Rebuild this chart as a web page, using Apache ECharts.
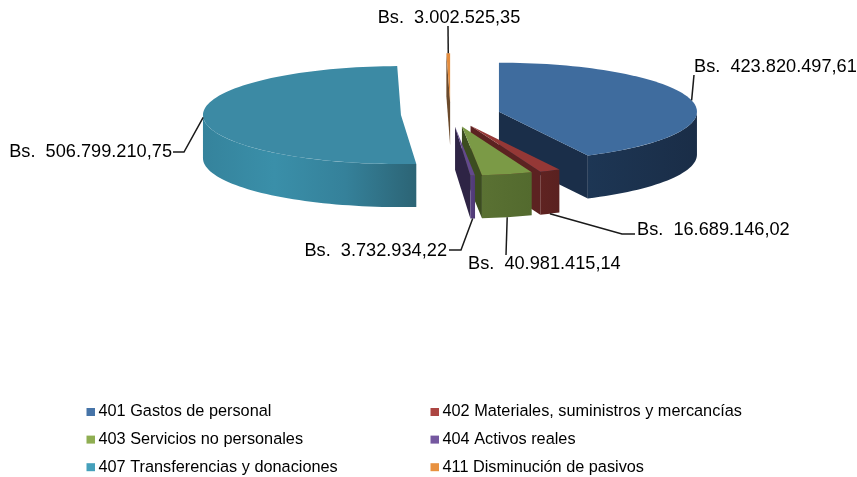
<!DOCTYPE html>
<html>
<head>
<meta charset="utf-8">
<title>Gastos por partida</title>
<style>
	html, body { margin: 0; padding: 0; background: #fff; }
	#chart { width: 857px; height: 477px; }
</style>
<script src="https://cdn.jsdelivr.net/npm/echarts@6/dist/echarts.min.js"></script>
</head>
<body>
<div id="chart"></div>
<script>
var categories = ['401 Gastos de personal', '402 Materiales, suministros y mercancías', '403 Servicios no personales', '404 Activos reales', '407 Transferencias y donaciones', '411 Disminución de pasivos'];
var values = [423820497.61, 16689146.02, 40981415.14, 3732934.22, 506799210.75, 3002525.35];

// styles, same order as categories
var topColors = ['#3f6c9e', '#953836', '#7b9a46', '#63498c', '#3c8aa4', '#e38c3e'];
var rimColors = [['#1d3654', '#1a2d47'], ['#5f2321', '#5a2120'], ['#5a7133', '#536a2e'], ['#574080', '#4f3a74'], ['#35839c', '#3a8fa9', '#35819a', '#2c6475'], ['#a8662c', '#6e4a26']];
var faceColors = ['#1a2e49', '#5c2221', '#3c4d20', '#2e2445', '#2a6070', '#6b4a2c'];
var legendColors = ['#4674a8', '#ac4542', '#8fae52', '#7558a0', '#45a0bb', '#e8913f'];

// label layout: elbow of the leader line, end of it, text anchor
var leaders = [
	[[694, 75], [694, 75]],
	[[622, 234], [635, 234]],
	[[506, 255], [506, 255]],
	[[461, 250], [449, 250]],
	[[184, 152], [173, 152]],
	[[448, 26], [448, 26]]
];
var labelPos = [[694, 67, 'left'], [637, 230, 'left'], [468, 264, 'left'], [447, 251, 'right'], [172, 152, 'right'], [449, 18, 'center']];

// pie geometry
var cx = 450.6, cy = 114.5, rx = 198, ry = 49, depth = 43, explode = 49.7;

var total = 0, i;
for (i = 0; i < values.length; i++) {
	total += values[i];
}
var startAngles = [], acc = 0;
for (i = 0; i < values.length; i++) {
	startAngles.push(acc);
	acc += values[i] / total * 360;
}

function rad(a) {
	return a * Math.PI / 180;
}

function formatBs(v) {
	var s = v.toFixed(2).split('.');
	return 'Bs.  ' + s[0].replace(/\B(?=(\d{3})+$)/g, '.') + ',' + s[1];
}

// angle is clockwise from 12 o'clock
function rimPoint(ox, oy, a, dy) {
	return [ox + rx * Math.sin(rad(a)), oy - ry * Math.cos(rad(a)) + dy];
}

function arcPoints(ox, oy, a0, a1, dy) {
	var pts = [], n = Math.max(2, Math.ceil(Math.abs(a1 - a0) / 2)), k;
	for (k = 0; k <= n; k++) {
		pts.push(rimPoint(ox, oy, a0 + (a1 - a0) * k / n, dy));
	}
	return pts;
}

function poly(points, fill) {
	return {
		type: 'polygon',
		shape: { points: points },
		silent: true,
		style: { fill: fill }
	};
}

function renderSlice(idx, api) {
	var sweep = api.value(0) / total * 360;
	var a0 = startAngles[idx];
	var a1 = a0 + sweep;
	var mid = a0 + sweep / 2;
	var ox = cx + explode * Math.sin(rad(mid));
	var oy = cy - explode * ry / rx * Math.cos(rad(mid));
	var children = [];
	var p0 = rimPoint(ox, oy, a0, 0);
	var p1 = rimPoint(ox, oy, a1, 0);

	// flat side faces, only those turned to the viewer
	if (Math.sin(rad(a0)) < 0) {
		children.push(poly([[ox, oy], p0, [p0[0], p0[1] + depth], [ox, oy + depth]], faceColors[idx]));
	}
	if (Math.sin(rad(a1)) > 0) {
		children.push(poly([[ox, oy], p1, [p1[0], p1[1] + depth], [ox, oy + depth]], faceColors[idx]));
	}

	// outer rim, front half of the ellipse only
	var r0 = Math.max(a0, 90), r1 = Math.min(a1, 270);
	if (r1 > r0) {
		var rim = arcPoints(ox, oy, r0, r1, 0).concat(arcPoints(ox, oy, r1, r0, depth));
		var stops = rimColors[idx].map(function (c, k, all) {
			return { offset: k / (all.length - 1), color: c };
		});
		children.push(poly(rim, new echarts.graphic.LinearGradient(0, 0, 1, 0, stops)));
	}

	// top face
	children.push(poly([[ox, oy]].concat(arcPoints(ox, oy, a0, a1, 0)), topColors[idx]));

	// leader line, starts on the rim at the middle of the slice
	var anchor = rimPoint(ox, oy, mid, Math.cos(rad(mid)) < -0.5 ? depth : 0);
	children.push({
		type: 'polyline',
		silent: true,
		shape: { points: [anchor].concat(leaders[idx]) },
		style: { stroke: '#1a1a1a', lineWidth: 1.5, fill: 'none' }
	});

	children.push({
		type: 'text',
		silent: true,
		x: labelPos[idx][0],
		y: labelPos[idx][1],
		style: {
			text: formatBs(api.value(0)),
			fontFamily: '"Liberation Sans", Arial, sans-serif',
			fontSize: 18.2,
			fill: '#000',
			align: labelPos[idx][2],
			verticalAlign: 'middle'
		}
	});

	return { type: 'group', children: children };
}

var myChart = echarts.init(document.getElementById('chart'), null, { renderer: 'canvas' });

// slices are painted back to front
var drawOrder = [5, 0, 4, 1, 2, 3];
var series = drawOrder.map(function (n) {
	return {
		type: 'custom',
		name: categories[n],
		animation: false,
		silent: true,
		coordinateSystem: 'none',
		itemStyle: { color: legendColors[n] },
		renderItem: function (params, api) {
			return renderSlice(n, api);
		},
		data: [[values[n]]]
	};
});

function legendColumn(names, left) {
	return {
		left: left,
		top: 404,
		orient: 'vertical',
		icon: 'rect',
		itemWidth: 8.5,
		itemHeight: 8,
		itemGap: 11.6,
		selectedMode: false,
		padding: 0,
		textStyle: {
			fontFamily: '"Liberation Sans", Arial, sans-serif',
			fontSize: 16.3,
			color: '#000',
			padding: [0, 0, 0, -1.5]
		},
		data: names
	};
}

myChart.setOption({
	backgroundColor: '#fff',
	animation: false,
	legend: [
		legendColumn([categories[0], categories[2], categories[4]], 86.5),
		legendColumn([categories[1], categories[3], categories[5]], 430.5)
	],
	series: series
});
</script>
</body>
</html>
